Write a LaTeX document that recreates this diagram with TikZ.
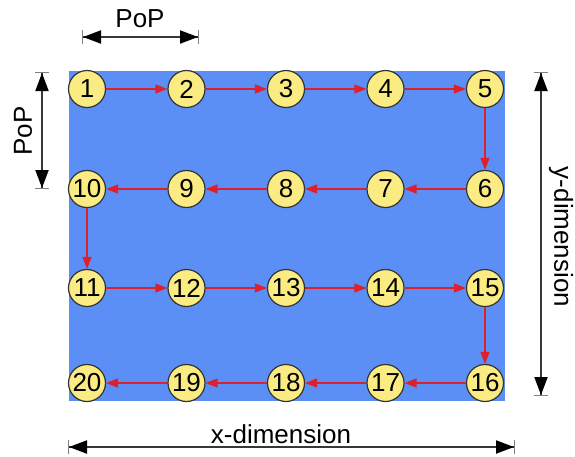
\documentclass[tikz,border=0pt]{standalone}
\usepackage{fontspec}
\setmainfont{Liberation Sans}
\usepackage{xcolor}
\usetikzlibrary{arrows.meta,positioning}

\definecolor{plateblue}{RGB}{91,143,245}
\definecolor{spotyellow}{RGB}{250,236,130}
\definecolor{pathred}{RGB}{222,32,44}
\definecolor{dimgray}{RGB}{55,55,55}

\begin{document}
\begin{tikzpicture}[
  x=1pt, y=-1pt,
  spot/.style={
    circle,
    draw=black!80,
    line width=1.2pt,
    fill=spotyellow,
    inner sep=0pt,
    minimum size=37pt,
    font=\fontsize{26}{26}\selectfont
  },
  pathstep/.style={draw=pathred, line width=1.3pt, -{Triangle[length=12pt, width=9pt]}},
  dimline/.style={
    draw=dimgray, line width=2pt,
    {Bar[gray, width=14pt, line width=1pt]Triangle[black, length=18pt, width=13pt]}-{Triangle[black, length=18pt, width=13pt]Bar[gray, width=14pt, line width=1pt]}
  },
  dimlabel/.style={font=\fontsize{26}{26}\selectfont, inner sep=0pt}
]
\useasboundingbox (0,0) rectangle (575,456);
\fill[plateblue] (69,71) rectangle (505,401);

% grid of sampling spots, snake order
\foreach \n [count=\c from 0] in {1,2,3,4,5}
  \node[spot] (p\n) at (87+99.5*\c, 89) {\n};
\foreach \n [count=\c from 0] in {10,9,8,7,6}
  \node[spot] (p\n) at (87+99.5*\c, 189) {\n};
\foreach \n [count=\c from 0] in {11,12,13,14,15}
  \node[spot] (p\n) at (87+99.5*\c, 288) {\n};
\foreach \n [count=\c from 0] in {20,19,18,17,16}
  \node[spot] (p\n) at (87+99.5*\c, 383) {\n};

\foreach \a [evaluate=\a as \b using int(\a+1)] in {1,...,19}
  \draw[pathstep] (p\a) -- (p\b);

% dimension arrows
\coordinate (popL) at (82,37);
\coordinate (popR) at (199,37);
\coordinate (popT) at (42,72);
\coordinate (popB) at (42,189);
\coordinate (yT) at (541,72);
\coordinate (yB) at (541,396);
\coordinate (xL) at (68,447);
\coordinate (xR) at (515,447);

\draw[dimline] (popL) -- (popR);
\draw[dimline] (popT) -- (popB);
\draw[dimline] (yT) -- (yB);
\draw[dimline] (xL) -- (xR);

\node[dimlabel] (popTop) at (140,19) {PoP};
\node[dimlabel, rotate=90] (popSide) at (23,131) {PoP};
\node[dimlabel, rotate=-90] (ylabel) at (561,237) {y-dimension};
\node[dimlabel] (xlabel) at (281,434) {x-dimension};
\end{tikzpicture}
\end{document}
